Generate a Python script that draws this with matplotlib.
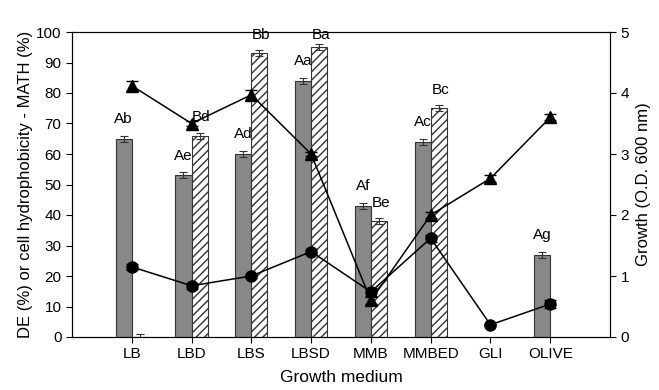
import matplotlib.pyplot as plt
import numpy as np

plt.rcParams['font.family'] = ['Liberation Sans', 'DejaVu Sans']

# Data
media = ["LB", "LBD", "LBS", "LBSD", "MMB", "MMBED", "GLI", "OLIVE"]
de = [65, 53, 60, 84, 43, 64, np.nan, 27]             # grey bars (%)
de_err = [1, 1, 1, 1, 1, 1, 0, 1]
de_lab = ["Ab", "Ae", "Ad", "Aa", "Af", "Ac", "", "Ag"]
math = [0, 66, 93, 95, 38, 75, np.nan, np.nan]         # hatched bars (%)
math_err = [1, 1, 1, 1, 1, 1, 0, 0]
math_lab = ["", "Bd", "Bb", "Ba", "Be", "Bc", "", ""]
growth_tri = [4.12, 3.5, 3.97, 3.0, 0.6, 2.0, 2.6, 3.6]   # O.D. 600 nm
tri_err = [0.08, 0.04, 0.08, 0.04, 0.06, 0.05, 0.06, 0.05]
growth_dot = [1.15, 0.84, 1.0, 1.4, 0.74, 1.62, 0.2, 0.54]
dot_err = [0.05, 0.05, 0.04, 0.04, 0.07, 0.06, 0.02, 0.06]


def main():
    fig = plt.figure(figsize=(6.59, 3.9), dpi=100)
    ax = fig.add_axes([72 / 659, 1 - 337 / 390, 538 / 659, 305 / 390])
    x = np.arange(1, len(media) + 1)
    w = 0.27

    ax.bar(x - w / 2, de, w, yerr=de_err, color="#888888", edgecolor="#333333",
           linewidth=0.8, capsize=3, error_kw=dict(elinewidth=0.8, capthick=0.8, ecolor="#333333"))
    ax.bar(x + w / 2, math, w, yerr=math_err, color="white", edgecolor="#333333",
           hatch="////", linewidth=0.8, capsize=3, error_kw=dict(elinewidth=0.8, capthick=0.8, ecolor="#333333"))

    for i in range(len(media)):
        if de_lab[i]:
            ax.text(x[i] - w / 2, min(de[i] + 6.5, 99), de_lab[i], ha="center", va="center", fontsize=11)
        if math_lab[i]:
            ax.text(x[i] + w / 2 + 0.03, min(math[i] + 6, 99), math_lab[i], ha="center", va="center", fontsize=11)

    ax.set_xlim(0, 9)
    ax.set_ylim(0, 100)
    ax.set_yticks(range(0, 101, 10))
    ax.set_xticks(x)
    ax.set_xticklabels(media)
    ax.set_ylabel("DE (%) or cell hydrophobicity - MATH (%)", fontsize=12, labelpad=2)
    ax.set_xlabel("Growth medium", fontsize=12.5, labelpad=6)
    ax.tick_params(labelsize=11, direction="out", length=4)

    ax2 = ax.twinx()
    ax2.errorbar(x, growth_tri, yerr=tri_err, color="black", marker="^", markersize=8,
                 linewidth=1.1, capsize=4, elinewidth=0.9)
    ax2.errorbar(x, growth_dot, yerr=dot_err, color="black", marker="o", markersize=8,
                 linewidth=1.1, capsize=4, elinewidth=0.9)
    ax2.set_ylim(0, 5)
    ax2.set_yticks(range(0, 6))
    ax2.set_ylabel("Growth (O.D. 600 nm)", fontsize=12, labelpad=5)
    ax2.tick_params(labelsize=11, direction="out", length=4)

    fig.savefig("out.png", dpi=100)


if __name__ == "__main__":
    main()
